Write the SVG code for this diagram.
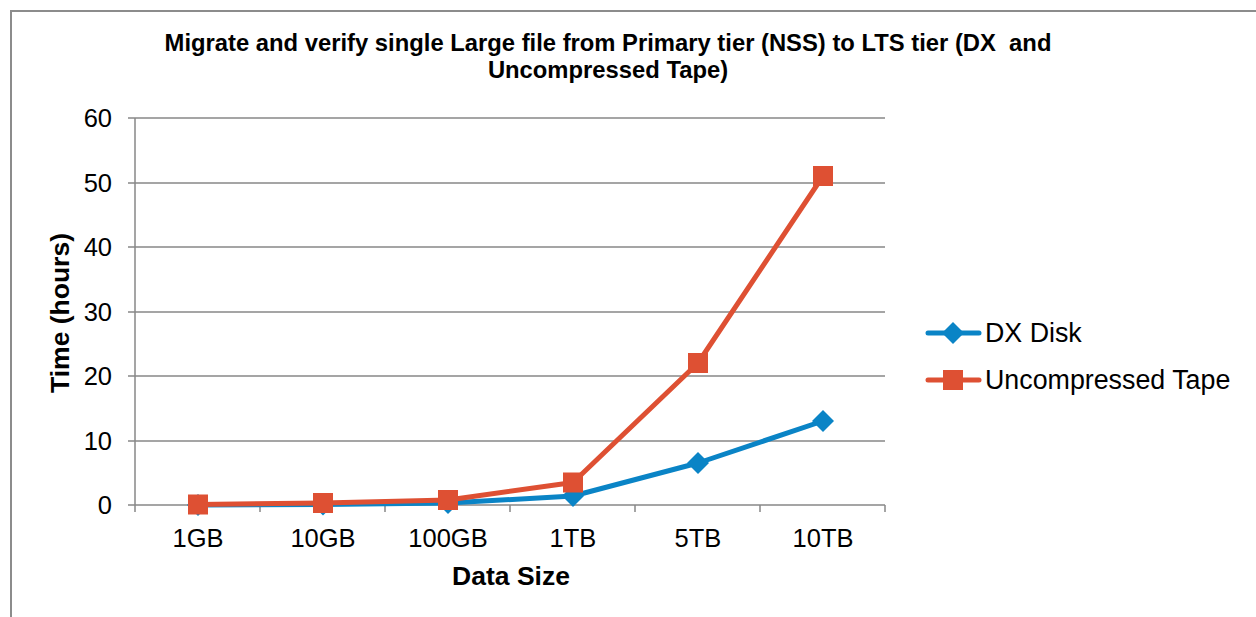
<svg xmlns="http://www.w3.org/2000/svg" width="1256" height="617" viewBox="0 0 1256 617">
  <style>
    .frame { fill: none; stroke: #8c8c8c; stroke-width: 2; }
    .grid { stroke: #888888; stroke-width: 1.5; fill: none; }
    .title { font-family: "Liberation Sans", Arial, sans-serif; font-weight: bold; font-size: 23.8px; fill: #000; text-anchor: middle; white-space: pre; }
    .tick { font-family: "Liberation Sans", Arial, sans-serif; font-size: 25.5px; fill: #000; }
    .axt { font-family: "Liberation Sans", Arial, sans-serif; font-weight: bold; font-size: 26.5px; fill: #000; text-anchor: middle; }
    .leg { font-family: "Liberation Sans", Arial, sans-serif; font-size: 26.8px; fill: #000; }
    .dx { stroke: #0A84C6; stroke-width: 5; fill: none; stroke-linejoin: round; stroke-linecap: round; }
    .tape { stroke: #DE5033; stroke-width: 5; fill: none; stroke-linejoin: round; stroke-linecap: round; }
  </style>
  <defs>
    <path id="diamond" d="M0,-11 L11,0 L0,11 L-11,0 Z" fill="#0A84C6"/>
    <rect id="square" x="-10" y="-10" width="20" height="20" fill="#DE5033"/>
  </defs>

  <rect width="1256" height="617" fill="#ffffff"/>
  <path class="frame" d="M11,617 L11,11 L1256,11"/>

  <g id="title">
    <text class="title" x="608" y="51" xml:space="preserve">Migrate and verify single Large file from Primary tier (NSS) to LTS tier (DX  and</text>
    <text class="title" x="608" y="78">Uncompressed Tape)</text>
  </g>

  <g id="grid">
    <path class="grid" d="M128,118H885 M128,183H885 M128,247H885 M128,312H885 M128,376H885 M128,441H885 M128,505H885"/>
    <path class="grid" d="M135,118V512 M260,505V512 M385,505V512 M510,505V512 M635,505V512 M760,505V512 M885,505V512"/>
  </g>

  <g id="y-axis">
    <text class="tick" x="112" y="127" text-anchor="end">60</text>
    <text class="tick" x="112" y="192" text-anchor="end">50</text>
    <text class="tick" x="112" y="256" text-anchor="end">40</text>
    <text class="tick" x="112" y="321" text-anchor="end">30</text>
    <text class="tick" x="112" y="385" text-anchor="end">20</text>
    <text class="tick" x="112" y="450" text-anchor="end">10</text>
    <text class="tick" x="112" y="514" text-anchor="end">0</text>
    <text class="axt" transform="translate(69,313) rotate(-90)">Time (hours)</text>
  </g>

  <g id="x-axis">
    <text class="tick" x="198" y="547" text-anchor="middle">1GB</text>
    <text class="tick" x="323" y="547" text-anchor="middle">10GB</text>
    <text class="tick" x="448" y="547" text-anchor="middle">100GB</text>
    <text class="tick" x="573" y="547" text-anchor="middle">1TB</text>
    <text class="tick" x="698" y="547" text-anchor="middle">5TB</text>
    <text class="tick" x="823" y="547" text-anchor="middle">10TB</text>
    <text class="axt" x="511" y="585">Data Size</text>
  </g>

  <g id="series-dx">
    <polyline class="dx" points="198,505 323,504.5 448,503 573,496 698,463 823,421"/>
    <use href="#diamond" x="198" y="505"/>
    <use href="#diamond" x="323" y="504.5"/>
    <use href="#diamond" x="448" y="503"/>
    <use href="#diamond" x="573" y="496"/>
    <use href="#diamond" x="698" y="463"/>
    <use href="#diamond" x="823" y="421"/>
  </g>

  <g id="series-tape">
    <polyline class="tape" points="198,504.5 323,503 448,500 573,482.5 698,363 823,176"/>
    <use href="#square" x="198" y="504.5"/>
    <use href="#square" x="323" y="503"/>
    <use href="#square" x="448" y="500"/>
    <use href="#square" x="573" y="482.5"/>
    <use href="#square" x="698" y="363"/>
    <use href="#square" x="823" y="176"/>
  </g>

  <g id="legend">
    <path class="dx" d="M928,333H979"/>
    <use href="#diamond" x="953" y="333"/>
    <text class="leg" x="985" y="342">DX Disk</text>
    <path class="tape" d="M928,380H979"/>
    <use href="#square" x="953" y="380"/>
    <text class="leg" x="985" y="389">Uncompressed Tape</text>
  </g>
</svg>
